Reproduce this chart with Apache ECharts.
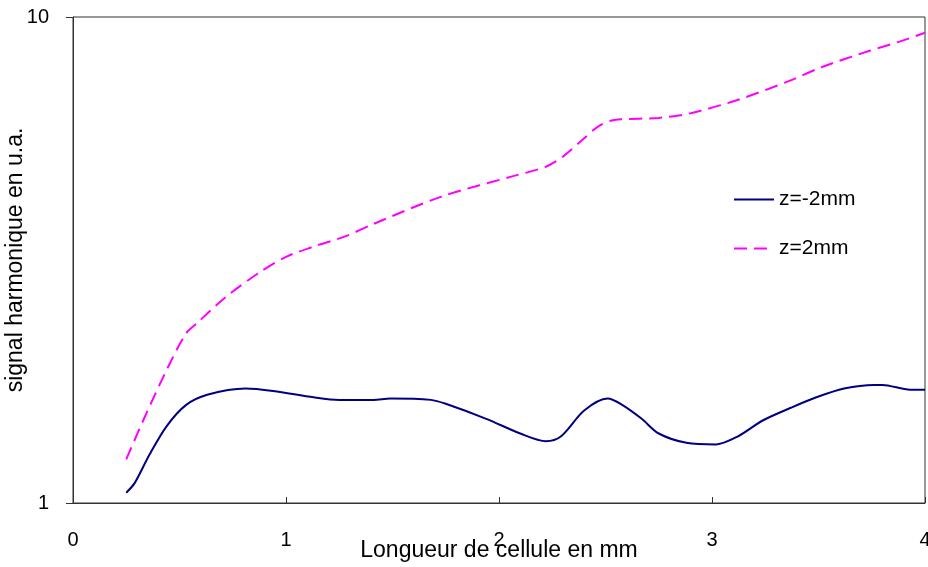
<!DOCTYPE html>
<html>
<head>
<meta charset="utf-8">
<script src="https://cdn.jsdelivr.net/npm/echarts@6/dist/echarts.min.js"></script>
<style>
html,body{margin:0;padding:0;background:#fff;}
#chart{width:928px;height:567px;}
</style>
</head>
<body>
<div id="chart"></div>
<script>
// longueur de cellule (mm) et signal harmonique (u.a.)
var xMoins = [0.25, 0.29, 0.36, 0.44, 0.53, 0.63, 0.81, 0.94, 1.13, 1.25, 1.41, 1.49, 1.68, 1.75, 1.94, 2.10, 2.22, 2.29, 2.40, 2.51, 2.58, 2.67, 2.75, 2.88, 3.02, 3.12, 3.24, 3.37, 3.49, 3.62, 3.76, 3.80, 3.93, 4.00];
var zMoins = [1.05, 1.10, 1.26, 1.44, 1.59, 1.67, 1.72, 1.70, 1.65, 1.63, 1.63, 1.64, 1.63, 1.60, 1.49, 1.39, 1.34, 1.37, 1.55, 1.64, 1.59, 1.49, 1.39, 1.33, 1.32, 1.37, 1.48, 1.57, 1.65, 1.72, 1.75, 1.75, 1.71, 1.71];

var xPlus = [0.25, 0.33, 0.44, 0.53, 0.58, 0.72, 0.88, 1.00, 1.13, 1.28, 1.41, 1.73, 2.07, 2.22, 2.30, 2.40, 2.47, 2.54, 2.75, 2.90, 3.12, 3.36, 3.52, 3.74, 3.88, 4.00];
var zPlus = [1.23, 1.48, 1.88, 2.23, 2.34, 2.66, 2.99, 3.21, 3.37, 3.54, 3.75, 4.27, 4.71, 4.92, 5.16, 5.63, 5.97, 6.14, 6.20, 6.34, 6.75, 7.38, 7.90, 8.52, 8.90, 9.28];

var seriesNames = ['z=-2mm', 'z=2mm'];

function paires(xs, ys){
    var d = [];
    for(var i = 0; i < xs.length; i++){
        d.push([xs[i], ys[i]]);
    }
    return d;
}

var myChart = echarts.init(document.getElementById('chart'));
var police = 'Liberation Sans, Arial, sans-serif';
var option = {
    animation: false,
    backgroundColor: '#fff',
    grid: {
        left: 73,
        right: 3,
        top: 17,
        bottom: 64,
        outerBoundsMode: 'none',
        containLabel: false,
        show: true,
        borderColor: '#333',
        borderWidth: 1
    },
    legend: {
        data: seriesNames,
        orient: 'vertical',
        left: 733,
        top: 189,
        padding: 0,
        itemWidth: 40,
        itemHeight: 14,
        itemGap: 28,
        itemStyle: {opacity: 0},
        textStyle: {fontFamily: police, fontSize: 21, color: '#000'}
    },
    xAxis: {
        type: 'value',
        min: 0,
        max: 4,
        interval: 1,
        name: 'Longueur de cellule en mm',
        nameLocation: 'middle',
        nameGap: 36,
        nameMoveOverlap: false,
        nameTextStyle: {fontFamily: police, fontSize: 23, color: '#000'},
        axisLine: {lineStyle: {color: '#333'}},
        axisTick: {inside: true, length: 6, lineStyle: {color: '#333'}},
        axisLabel: {fontFamily: police, fontSize: 20, color: '#000', margin: 27},
        splitLine: {show: false}
    },
    yAxis: {
        type: 'log',
        logBase: 10,
        min: 1,
        max: 10,
        name: 'signal harmonique en u.a.',
        nameLocation: 'middle',
        nameGap: 46,
        nameMoveOverlap: false,
        nameTextStyle: {fontFamily: police, fontSize: 23, color: '#000'},
        axisLine: {show: true, lineStyle: {color: '#333'}},
        axisTick: {show: true, length: 7, lineStyle: {color: '#333'}},
        axisLabel: {fontFamily: police, fontSize: 20, color: '#000', margin: 24},
        splitLine: {show: false}
    },
    series: [
        {
            name: seriesNames[0],
            type: 'line',
            smooth: 0.3,
            symbol: 'none',
            lineStyle: {color: '#000080', width: 2},
            itemStyle: {color: '#000080'},
            data: paires(xMoins, zMoins)
        },
        {
            name: seriesNames[1],
            type: 'line',
            smooth: 0.3,
            symbol: 'none',
            lineStyle: {color: '#ff00ff', width: 2, type: [13, 7]},
            itemStyle: {color: '#ff00ff'},
            data: paires(xPlus, zPlus)
        }
    ]
};
myChart.setOption(option);
</script>
</body>
</html>
